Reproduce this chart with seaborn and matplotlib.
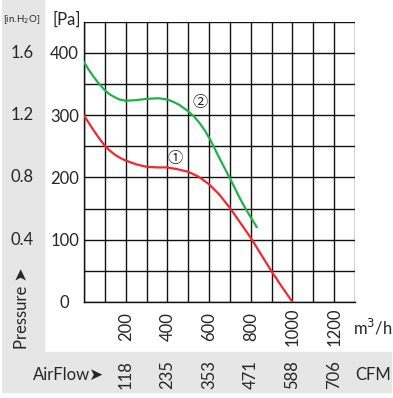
import pandas as pd
import matplotlib
matplotlib.use("Agg")
from matplotlib import pyplot as plt
from matplotlib import transforms
from matplotlib.patches import Rectangle
import seaborn as sns

# ---------------- DATA ----------------
flow_1 = [0, 20, 45, 70, 97, 120, 150, 175, 200, 250, 300, 350, 400, 450, 500, 550, 600, 650, 700, 750, 800, 850, 900, 950, 1000]
pa_1 = [299, 289, 276, 264, 252, 244, 236, 231, 227, 221, 217, 216, 216, 213, 209, 201, 189, 172, 151, 127, 103, 76, 49, 24, 0]

flow_2 = [0, 20, 45, 70, 97, 120, 140, 170, 200, 250, 300, 356, 400, 430, 459, 500, 530, 555, 580, 603, 651, 699, 750, 778, 829]
pa_2 = [385, 374, 362, 351, 341, 334, 330, 325, 323, 324, 326, 327, 325, 321, 316, 306, 297, 287, 275, 262, 230, 199, 165, 148, 120]

pa_ticks = [0, 100, 200, 300, 400]
inh2o_labels = ["1.6", "1.2", "0.8", "0.4"]
inh2o_pa = [400, 300, 200, 100]
flow_ticks = [200, 400, 600, 800, 1000, 1200]
cfm_labels = ["118", "235", "353", "471", "588", "706"]

RED = "#ee2a30"
GREEN = "#22b04b"
GRAY = "#e6e6e6"

# ---------------- STYLE ----------------
sns.set_style("white")
plt.rcParams['font.family'] = ['Lato', 'DejaVu Sans']

W, H = 393, 398
fig = plt.figure(figsize=(W / 100, H / 100), dpi=100)

def fx(x):
    return x / W

def fy(y):
    return 1 - y / H

# gray panels
fig.patches.append(Rectangle((fx(2), fy(352)), fx(42), 1 - fy(352), transform=fig.transFigure,
                             color=GRAY, zorder=0))
fig.patches.append(Rectangle((fx(2), fy(392)), fx(389), fy(352) - fy(392), transform=fig.transFigure,
                             color=GRAY, zorder=0))

ax = fig.add_axes([fx(84), fy(302), fx(355) - fx(84), fy(21.6) - fy(302)])
ax.patch.set_alpha(0)

df1 = pd.DataFrame({"flow": flow_1, "pa": pa_1})
df2 = pd.DataFrame({"flow": flow_2, "pa": pa_2})
sns.lineplot(data=df1, x="flow", y="pa", color=RED, lw=1.6, ax=ax, zorder=3)
sns.lineplot(data=df2, x="flow", y="pa", color=GREEN, lw=1.6, ax=ax, zorder=3)

ax.set_xlim(0, 1300)
ax.set_ylim(0, 450)
ax.set_xticks(range(0, 1301, 100))
ax.set_yticks(range(0, 451, 50))
ax.set_xticklabels([str(v) if v in flow_ticks else "" for v in range(0, 1301, 100)],
                   rotation=90, va="center", fontsize=12)
ax.set_yticklabels([str(v) if v in pa_ticks else "" for v in range(0, 451, 50)],
                   ha="center", fontsize=12)
ax.tick_params(axis="x", length=2, width=1, color="#111111", pad=16)
ax.tick_params(axis="y", length=2, width=1, color="#111111", pad=12)
ax.grid(True, color="#111111", lw=1.0)
for s in ax.spines.values():
    s.set_color("#111111")
    s.set_linewidth(1.0)
ax.spines["top"].set_visible(False)
ax.spines["right"].set_visible(False)
ax.set_xlabel("")
ax.set_ylabel("")

# curve labels
ax.text(435, 231, "\u2460", fontsize=11, ha="center", va="center",
        family=['Noto Sans CJK JP', 'DejaVu Sans'])
ax.text(555, 320, "\u2461", fontsize=11, ha="center", va="center",
        family=['Noto Sans CJK JP', 'DejaVu Sans'])

# secondary scales
tl = transforms.blended_transform_factory(fig.transFigure, ax.transData)
for lab, p in zip(inh2o_labels, inh2o_pa):
    fig.text(fx(22), p, lab, transform=tl, ha="center", va="center", fontsize=12)

tb = transforms.blended_transform_factory(ax.transData, fig.transFigure)
for lab, f in zip(cfm_labels, flow_ticks):
    fig.text(f, fy(375), lab, transform=tb, ha="center", va="center", rotation=90, fontsize=12)

fig.text(fx(22), fy(20), "[in.H$_2$O]", ha="center", va="center", fontsize=7)
fig.text(fx(67), fy(20), "[Pa]", ha="center", va="center", fontsize=12)
fig.text(fx(22), fy(308), "Pressure \u27a4", ha="center", va="center", rotation=90, fontsize=12)
fig.text(fx(33), fy(375), "AirFlow\u27a4", ha="left", va="center", fontsize=12)
fig.text(fx(373), fy(375), "CFM", ha="center", va="center", fontsize=12)
fig.text(fx(373), fy(327), "m$^3$/h", ha="center", va="center", fontsize=12)

fig.savefig("out.png", dpi=100)
